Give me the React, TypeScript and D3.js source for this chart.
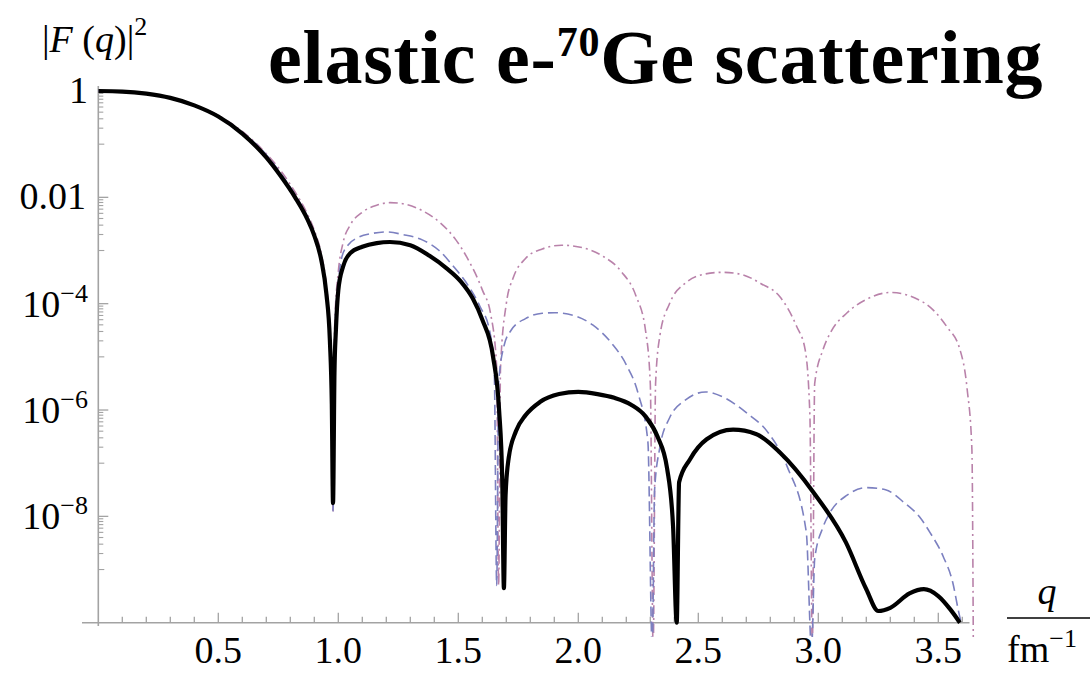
import React from "react";
import * as d3 from "d3";

const W = 1090;
const H = 674;

// Momentum transfer q (fm^-1) and log10 |F(q)|^2 for the three form-factor curves.
const solidQ = [
  0, 0.1, 0.2, 0.3, 0.4, 0.5, 0.6, 0.7, 0.76, 0.82, 0.87, 0.9, 0.93, 0.95, 0.965, 0.973, 0.978,
  0.984, 0.99, 1.0, 1.02, 1.05, 1.1, 1.16, 1.215, 1.3, 1.38, 1.45, 1.51, 1.56, 1.6, 1.645, 1.67, 1.683, 1.69,
  1.697, 1.71, 1.74, 1.78, 1.84, 1.92, 2.0, 2.08, 2.15, 2.22, 2.28, 2.33, 2.37, 2.395, 2.41,
  2.42, 2.465, 2.535, 2.645, 2.74, 2.84, 2.98, 3.115, 3.2, 3.25, 3.3, 3.38, 3.44, 3.5, 3.55, 3.59,
];
const solidLog10 = [
  0, -0.01, -0.05, -0.13, -0.27, -0.48, -0.8, -1.25, -1.6, -2.0, -2.4, -2.72, -3.2, -3.8, -4.7, -5.9, -7.75,
  -5.3, -4.5, -3.75, -3.3, -3.05, -2.93, -2.86, -2.84, -2.9, -3.1, -3.33, -3.58, -3.9, -4.3, -5.0, -6.0, -7.3, -9.35,
  -7.6, -6.9, -6.4, -6.1, -5.85, -5.7, -5.66, -5.7, -5.77, -5.9, -6.12, -6.5, -7.1, -8.2, -10.0,
  -7.36, -6.93, -6.55, -6.37, -6.45, -6.8, -7.55, -8.49, -9.37, -9.78, -9.72, -9.45, -9.37, -9.5, -9.75, -10.0,
];

const dashedQ = [
  0, 0.2, 0.4, 0.5, 0.6, 0.7, 0.76, 0.82, 0.87, 0.9, 0.93, 0.95, 0.965, 0.973, 0.978,
  0.985, 1.0, 1.015, 1.04, 1.08, 1.14, 1.2, 1.27, 1.35, 1.42, 1.48, 1.54, 1.59, 1.63, 1.65, 1.66,
  1.668, 1.69, 1.72, 1.78, 1.85, 1.9, 1.98, 2.06, 2.14, 2.2, 2.25, 2.29, 2.308,
  2.318, 2.34, 2.38, 2.45, 2.53, 2.6, 2.7, 2.79, 2.87, 2.95, 2.972,
  2.985, 3.02, 3.05, 3.12, 3.2, 3.28, 3.36, 3.42, 3.465, 3.52, 3.56, 3.585, 3.595,
];
const dashedLog10 = [
  0, -0.05, -0.265, -0.47, -0.78, -1.2, -1.55, -1.95, -2.35, -2.68, -3.15, -3.75, -4.6, -5.8, -7.9,
  -4.6, -3.6, -3.12, -2.9, -2.76, -2.68, -2.65, -2.7, -2.8, -3.0, -3.3, -3.65, -4.05, -4.5, -5.3, -9.3,
  -5.5, -4.8, -4.5, -4.28, -4.18, -4.17, -4.22, -4.4, -4.75, -5.15, -5.7, -6.6, -10.5,
  -7.5, -6.7, -6.15, -5.8, -5.66, -5.75, -6.05, -6.42, -7.06, -8.3, -10.5,
  -8.8, -8.2, -7.92, -7.6, -7.46, -7.5, -7.75, -8.0, -8.3, -8.75, -9.24, -9.8, -10.0,
];

const dashDotQ = [
  0, 0.2, 0.4, 0.5, 0.6, 0.7, 0.76, 0.82, 0.87, 0.9, 0.93, 0.95, 0.965, 0.973, 0.978,
  0.985, 1.0, 1.02, 1.05, 1.1, 1.16, 1.215, 1.28, 1.35, 1.425, 1.49, 1.535, 1.6, 1.635, 1.66, 1.668,
  1.676, 1.7, 1.73, 1.78, 1.85, 1.93, 2.02, 2.1, 2.18, 2.24, 2.28, 2.3, 2.312,
  2.322, 2.34, 2.38, 2.45, 2.52, 2.6, 2.68, 2.76, 2.84, 2.91, 2.945, 2.965, 2.975,
  2.985, 3.02, 3.05, 3.12, 3.2, 3.3, 3.44, 3.535, 3.59, 3.62, 3.64, 3.646,
];
const dashDotLog10 = [
  0, -0.05, -0.26, -0.46, -0.76, -1.18, -1.5, -1.9, -2.3, -2.62, -3.08, -3.65, -4.5, -5.7, -7.9,
  -4.4, -3.4, -2.85, -2.52, -2.28, -2.15, -2.1, -2.13, -2.25, -2.48, -2.8, -3.12, -3.74, -4.2, -5.2, -9.3,
  -5.2, -4.0, -3.5, -3.15, -2.97, -2.9, -2.95, -3.1, -3.4, -3.85, -4.5, -5.5, -10.5,
  -5.5, -4.6, -4.0, -3.6, -3.45, -3.41, -3.45, -3.62, -3.87, -4.43, -4.86, -6.1, -10.5,
  -5.5, -4.86, -4.55, -4.17, -3.92, -3.79, -3.98, -4.43, -4.86, -5.6, -6.74, -10.5,
];

const xMajorTicks = [0.5, 1.0, 1.5, 2.0, 2.5, 3.0, 3.5];
const yMajorExponents = [0, -2, -4, -6, -8];

const x = d3.scaleLinear().domain([0, 3.65]).range([98.3, 98.3 + 3.65 * 240]);
const y = d3.scaleLog().domain([1e-10, 1]).range([622.7, 91]);

type Pt = [number, number];
const toPoints = (qs: number[], logs: number[]): Pt[] => qs.map((q, i) => [q, Math.pow(10, logs[i])]);

const line = d3
  .line<Pt>()
  .x((d) => x(d[0]))
  .y((d) => y(d[1]))
  .curve(d3.curveMonotoneX);

const axisColor = "#a3a3a3";
const serif = "'Liberation Serif', 'Times New Roman', serif";

function YLabel({ exp, yPos }: { exp: number; yPos: number }) {
  if (exp === 0) {
    return (
      <text x={88} y={yPos + 12} textAnchor="end" fontFamily={serif} fontSize={38}>
        1
      </text>
    );
  }
  if (exp === -2) {
    return (
      <text x={86} y={yPos + 12} textAnchor="end" fontFamily={serif} fontSize={38}>
        0.01
      </text>
    );
  }
  return (
    <text x={88} y={yPos + 13} textAnchor="end" fontFamily={serif} fontSize={38}>
      10
      <tspan fontSize={26} dy={-15}>
        {"\u2212" + Math.abs(exp)}
      </tspan>
    </text>
  );
}

export default function App() {
  const solid = toPoints(solidQ, solidLog10);
  const dashed = toPoints(dashedQ, dashedLog10);
  const dashDot = toPoints(dashDotQ, dashDotLog10);

  const xMinor = d3.range(1, 37).map((i) => i / 10);
  const yMinor: { v: number; medium: boolean }[] = [];
  yMajorExponents.forEach((e) => {
    for (let m = 2; m <= 9; m++) yMinor.push({ v: m * Math.pow(10, e - 1), medium: false });
    yMinor.push({ v: Math.pow(10, e - 1), medium: true });
  });

  const x0 = x(0);
  const yAxisY = y(1e-10);

  return (
    <svg
      width={W}
      height={H}
      style={{ position: "absolute", left: 0, top: 0, background: "#fff" }}
    >
      <defs>
        <clipPath id="plotArea">
          <rect x={x0} y={80} width={x(3.66) - x0} height={637 - 80} />
        </clipPath>
      </defs>

      {/* axes */}
      <line x1={82} x2={x(3.63)} y1={yAxisY} y2={yAxisY} stroke={axisColor} strokeWidth={1.6} />
      <line x1={x0} x2={x0} y1={86} y2={626} stroke={axisColor} strokeWidth={1.6} />

      {xMinor.map((t) => {
        const major = Math.abs(t * 2 - Math.round(t * 2)) < 1e-6;
        return (
          <line
            key={"xt" + t}
            x1={x(t)}
            x2={x(t)}
            y1={yAxisY}
            y2={yAxisY - (major ? 10 : 6)}
            stroke={axisColor}
            strokeWidth={1.3}
          />
        );
      })}
      {yMajorExponents.map((e) => (
        <line
          key={"ym" + e}
          x1={x0}
          x2={x0 + 10}
          y1={y(Math.pow(10, e))}
          y2={y(Math.pow(10, e))}
          stroke={axisColor}
          strokeWidth={1.3}
        />
      ))}
      {yMinor.map((t, i) => (
        <line
          key={"yn" + i}
          x1={x0}
          x2={x0 + (t.medium ? 6 : 5)}
          y1={y(t.v)}
          y2={y(t.v)}
          stroke={axisColor}
          strokeWidth={1.1}
        />
      ))}

      {/* tick labels */}
      {xMajorTicks.map((t) => (
        <text
          key={"xl" + t}
          x={x(t)}
          y={663}
          textAnchor="middle"
          fontFamily={serif}
          fontSize={38}
        >
          {t.toFixed(1)}
        </text>
      ))}
      {yMajorExponents.map((e) => (
        <YLabel key={"yl" + e} exp={e} yPos={y(Math.pow(10, e))} />
      ))}

      {/* curves */}
      <g clipPath="url(#plotArea)" fill="none">
        <path
          d={line(dashDot) ?? ""}
          stroke="#b982aa"
          strokeWidth={1.6}
          strokeDasharray="9 4 2 4"
        />
        <path d={line(dashed) ?? ""} stroke="#7c80c0" strokeWidth={1.6} strokeDasharray="10 5" />
        <path d={line(solid) ?? ""} stroke="#000" strokeWidth={4.2} strokeLinejoin="round" />
      </g>

      {/* axis titles */}
      <text x={42} y={52} fontFamily={serif} fontSize={38}>
        |<tspan fontStyle="italic">F</tspan> (<tspan fontStyle="italic">q</tspan>)|
        <tspan fontSize={26} dy={-17}>
          2
        </tspan>
      </text>
      <text x={1047} y={604} textAnchor="middle" fontFamily={serif} fontSize={38} fontStyle="italic">
        q
      </text>
      <line x1={1007} x2={1090} y1={618} y2={618} stroke="#000" strokeWidth={1.5} />
      <text x={1007} y={662} fontFamily={serif} fontSize={38}>
        fm
        <tspan fontSize={26} dy={-15}>
          {"\u22121"}
        </tspan>
      </text>

      {/* title */}
      <text x={268} y={83} fontFamily={serif} fontSize={76} fontWeight="bold" letterSpacing={0.8}>
        elastic e-
        <tspan fontSize={42} dy={-27}>
          70
        </tspan>
        <tspan dy={27}>Ge scattering</tspan>
      </text>
    </svg>
  );
}
